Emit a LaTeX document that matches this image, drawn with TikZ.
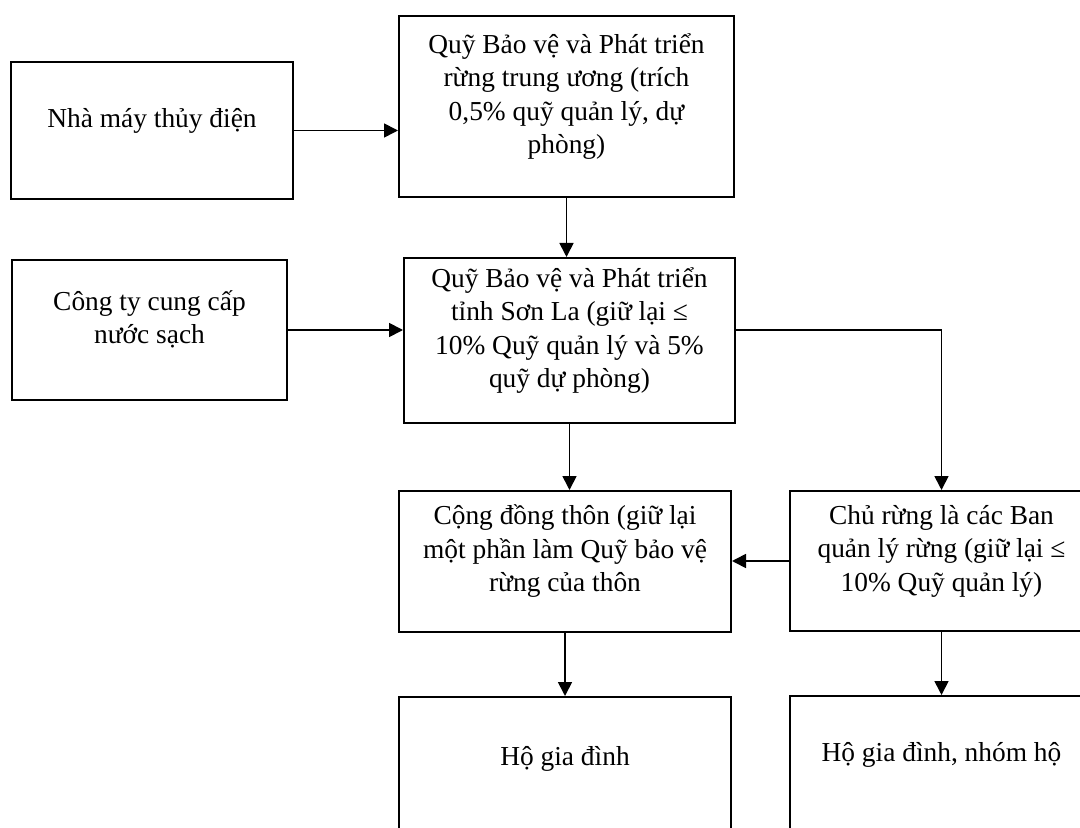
\documentclass[tikz,border=0pt]{standalone}
\usepackage{fontspec}
\setmainfont{Liberation Serif}
\usepackage{tikz}
\usetikzlibrary{positioning,arrows.meta}
\tikzset{qbox/.style={rectangle, draw=black, line width=1pt, align=center, inner sep=4pt, font=\fontsize{13.7}{16.75}\selectfont, execute at end node={\rule[-13pt]{0pt}{1pt}}}}
\tikzset{qarrow/.style={-{Triangle[length=7pt, width=7pt]}, draw=black, line width=0.85pt}}

\begin{document}
\begin{tikzpicture}[x=0.5pt, y=-0.5pt]
  \path[use as bounding box, clip] (0,0) rectangle (1080,828);

  \node[qbox, minimum width=141pt, minimum height=68.5pt] (nhamay) at (152,130.5) {Nhà máy thủy điện};
  \node[qbox, minimum width=167.5pt, minimum height=90.5pt] (quytw) at (566.5,106.5)
    {Quỹ Bảo vệ và Phát triển\\rừng trung ương (trích\\0,5\% quỹ quản lý, dự\\phòng)};

  \node[qbox, minimum width=137.5pt, minimum height=70pt] (congty) at (149.5,330) {Công ty cung cấp\\nước sạch};
  \node[qbox, minimum width=165.5pt, minimum height=82.5pt] (quytinh) at (569.5,340.5)
    {Quỹ Bảo vệ và Phát triển\\tỉnh Sơn La (giữ lại ≤\\10\% Quỹ quản lý và 5\%\\quỹ dự phòng)};

  \node[qbox, minimum width=166pt, minimum height=70.5pt] (congdong) at (565,561.5)
    {Cộng đồng thôn (giữ lại\\một phần làm Quỹ bảo vệ\\rừng của thôn};
  \node[qbox, minimum width=151.5pt, minimum height=70pt] (churung) at (941.5,561)
    {Chủ rừng là các Ban\\quản lý rừng (giữ lại ≤\\10\% Quỹ quản lý)};

  \node[qbox, anchor=north, minimum width=166pt, inner ysep=0pt, text height=34pt, text depth=60pt] (hogd) at (565,696) {Hộ gia đình};
  \node[qbox, anchor=north, minimum width=151.5pt, inner ysep=0pt, text height=32.5pt, text depth=60pt] (hogdnh) at (941.5,695) {Hộ gia đình, nhóm hộ};

  \draw[qarrow] (nhamay.east) -- (nhamay.east -| quytw.west);
  \draw[qarrow] (congty.east) -- (congty.east -| quytinh.west);
  \draw[qarrow] (quytw.south) -- (quytw.south |- quytinh.north);
  \draw[qarrow] (quytinh.south) -- (quytinh.south |- congdong.north);
  \draw[qarrow] (quytinh.east |- congty.east) -| (churung.north);
  \draw[qarrow] (churung.west) -- (churung.west -| congdong.east);
  \draw[qarrow] (congdong.south) -- (hogd.north);
  \draw[qarrow] (churung.south) -- (hogdnh.north);
\end{tikzpicture}
\end{document}
